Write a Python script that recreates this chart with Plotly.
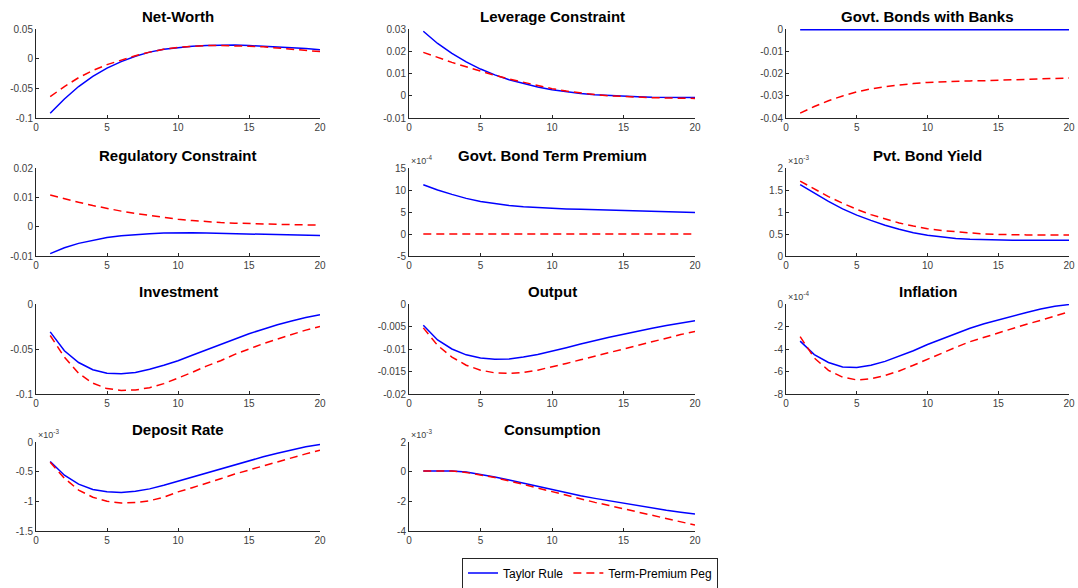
import plotly.graph_objects as go

periods = list(range(1, 21))

titles = ["Net-Worth", "Leverage Constraint", "Govt. Bonds with Banks",
          "Regulatory Constraint", "Govt. Bond Term Premium", "Pvt. Bond Yield",
          "Investment", "Output", "Inflation",
          "Deposit Rate", "Consumption"]

# Taylor Rule series
taylor_networth = [-0.092, -0.068, -0.047, -0.030, -0.016, -0.005, 0.004, 0.011, 0.016, 0.019,
                   0.021, 0.022, 0.023, 0.023, 0.022, 0.021, 0.020, 0.018, 0.017, 0.015]
taylor_leverage = [0.029, 0.0235, 0.019, 0.0152, 0.012, 0.0094, 0.0072, 0.0054, 0.0039, 0.0027,
                   0.0017, 0.0010, 0.0004, 0.0000, -0.0003, -0.0005, -0.0007, -0.0008, -0.0008, -0.0008]
taylor_govbonds = [0.0] * 20
taylor_regulatory = [-0.0092, -0.0072, -0.0057, -0.0046, -0.0037, -0.0031, -0.0027, -0.0024, -0.0022, -0.0021,
                     -0.0021, -0.0022, -0.0023, -0.0024, -0.0025, -0.0026, -0.0027, -0.0028, -0.0029, -0.0030]
taylor_termprem = [11.2, 10.0, 9.0, 8.1, 7.4, 6.9, 6.5, 6.2, 6.0, 5.8,
                   5.7, 5.6, 5.5, 5.45, 5.4, 5.3, 5.2, 5.1, 5.0, 4.9]          # x1e-4
taylor_pvtyield = [1.62, 1.42, 1.24, 1.07, 0.93, 0.81, 0.70, 0.61, 0.53, 0.47,
                   0.43, 0.40, 0.38, 0.37, 0.36, 0.36, 0.36, 0.36, 0.36, 0.36]  # x1e-3
taylor_invest = [-0.031, -0.052, -0.065, -0.073, -0.077, -0.0775, -0.076, -0.0725, -0.068, -0.063,
                 -0.057, -0.051, -0.045, -0.039, -0.033, -0.028, -0.023, -0.019, -0.015, -0.012]
taylor_output = [-0.0047, -0.0080, -0.0100, -0.0113, -0.0120, -0.0123, -0.0122, -0.0118, -0.0112, -0.0105,
                 -0.0097, -0.0089, -0.0081, -0.0074, -0.0067, -0.0060, -0.0054, -0.0048, -0.0042, -0.0037]
taylor_inflation = [-3.3, -4.5, -5.2, -5.6, -5.65, -5.45, -5.1, -4.65, -4.15, -3.6,
                    -3.1, -2.6, -2.15, -1.75, -1.4, -1.05, -0.75, -0.45, -0.2, -0.05]  # x1e-4
taylor_deposit = [-0.33, -0.56, -0.71, -0.80, -0.84, -0.85, -0.83, -0.79, -0.73, -0.66,
                  -0.59, -0.52, -0.45, -0.38, -0.31, -0.25, -0.19, -0.13, -0.08, -0.04]  # x1e-3
taylor_consump = [0.05, 0.07, 0.05, -0.03, -0.18, -0.36, -0.56, -0.78, -1.0, -1.2,
                  -1.42, -1.62, -1.8, -1.97, -2.13, -2.3, -2.45, -2.6, -2.73, -2.85]     # x1e-3

# Term-Premium Peg series
peg_networth = [-0.064, -0.047, -0.032, -0.020, -0.010, -0.002, 0.005, 0.011, 0.016, 0.019,
                0.021, 0.022, 0.022, 0.022, 0.021, 0.020, 0.018, 0.016, 0.014, 0.012]
peg_leverage = [0.0195, 0.0172, 0.015, 0.013, 0.011, 0.0092, 0.0075, 0.006, 0.0045, 0.0032,
                0.0021, 0.0012, 0.0005, 0.0000, -0.0004, -0.0007, -0.0009, -0.0010, -0.0011, -0.0012]
peg_govbonds = [-0.0378, -0.0348, -0.0322, -0.0300, -0.0282, -0.0268, -0.0258, -0.0250, -0.0244, -0.0239,
                -0.0236, -0.0234, -0.0232, -0.0231, -0.0229, -0.0227, -0.0225, -0.0223, -0.0221, -0.0219]
peg_regulatory = [0.0108, 0.0095, 0.0083, 0.0072, 0.0062, 0.0053, 0.0045, 0.0038, 0.0031, 0.0025,
                  0.0021, 0.0017, 0.0014, 0.0012, 0.0010, 0.0009, 0.0008, 0.0007, 0.0006, 0.0005]
peg_termprem = [0.0] * 20
peg_pvtyield = [1.70, 1.52, 1.35, 1.20, 1.06, 0.94, 0.84, 0.75, 0.68, 0.62,
                0.58, 0.55, 0.52, 0.50, 0.49, 0.48, 0.48, 0.48, 0.48, 0.48]
peg_invest = [-0.035, -0.059, -0.077, -0.088, -0.094, -0.096, -0.0955, -0.093, -0.0885, -0.0825,
              -0.076, -0.069, -0.063, -0.056, -0.050, -0.044, -0.039, -0.034, -0.029, -0.025]
peg_output = [-0.0053, -0.0092, -0.0118, -0.0136, -0.0147, -0.0153, -0.0154, -0.0152, -0.0147, -0.0140,
              -0.0132, -0.0124, -0.0116, -0.0107, -0.0099, -0.0091, -0.0083, -0.0076, -0.0068, -0.0061]
peg_inflation = [-2.9, -4.8, -5.9, -6.5, -6.75, -6.65, -6.35, -5.95, -5.45, -4.9,
                 -4.35, -3.85, -3.35, -2.95, -2.55, -2.15, -1.8, -1.45, -1.05, -0.7]
peg_deposit = [-0.34, -0.61, -0.81, -0.93, -1.00, -1.03, -1.02, -0.99, -0.93, -0.84,
               -0.77, -0.70, -0.62, -0.54, -0.47, -0.40, -0.33, -0.26, -0.20, -0.14]
peg_consump = [0.05, 0.07, 0.04, -0.05, -0.2, -0.4, -0.62, -0.86, -1.12, -1.38,
               -1.62, -1.85, -2.07, -2.28, -2.5, -2.72, -2.95, -3.18, -3.4, -3.6]

taylor_all = [taylor_networth, taylor_leverage, taylor_govbonds, taylor_regulatory, taylor_termprem,
              taylor_pvtyield, taylor_invest, taylor_output, taylor_inflation, taylor_deposit, taylor_consump]
peg_all = [peg_networth, peg_leverage, peg_govbonds, peg_regulatory, peg_termprem,
           peg_pvtyield, peg_invest, peg_output, peg_inflation, peg_deposit, peg_consump]

y_ticks = [
    [-0.1, -0.05, 0, 0.05],
    [-0.01, 0, 0.01, 0.02, 0.03],
    [-0.04, -0.03, -0.02, -0.01, 0],
    [-0.01, 0, 0.01, 0.02],
    [-5, 0, 5, 10, 15],
    [0, 0.5, 1, 1.5, 2],
    [-0.1, -0.05, 0],
    [-0.02, -0.015, -0.01, -0.005, 0],
    [-8, -6, -4, -2, 0],
    [-1.5, -1, -0.5, 0],
    [-4, -2, 0, 2],
]
y_ticklabels = [
    ["-0.1", "-0.05", "0", "0.05"],
    ["-0.01", "0", "0.01", "0.02", "0.03"],
    ["-0.04", "-0.03", "-0.02", "-0.01", "0"],
    ["-0.01", "0", "0.01", "0.02"],
    ["-5", "0", "5", "10", "15"],
    ["0", "0.5", "1", "1.5", "2"],
    ["-0.1", "-0.05", "0"],
    ["-0.02", "-0.015", "-0.01", "-0.005", "0"],
    ["-8", "-6", "-4", "-2", "0"],
    ["-1.5", "-1", "-0.5", "0"],
    ["-4", "-2", "0", "2"],
]
exponents = [None, None, None, None, "-4", "-3", None, None, "-4", "-3", "-3"]
x_ticks = [0, 5, 10, 15, 20]

W, H = 1078, 588
col_px = [(36, 320), (409, 695), (786, 1069)]
row_px = [(29, 118), (168, 256), (304, 394), (442, 531)]

fig = go.Figure()
axis_color = "#262626"
font_family = "Liberation Sans, Arial, sans-serif"
tick_font = dict(family=font_family, size=10, color="#404040")

for i in range(11):
    r, c = divmod(i, 3)
    n = i + 1
    xs = "" if n == 1 else str(n)
    x0, x1 = col_px[c]
    ytop, ybot = row_px[r]
    xd = [x0 / W, x1 / W]
    yd = [1 - ybot / H, 1 - ytop / H]
    fig.add_trace(go.Scatter(x=periods, y=taylor_all[i], mode="lines", name="Taylor Rule",
                             line=dict(color="#0000ff", width=1.5), showlegend=(i == 0),
                             xaxis="x" + xs, yaxis="y" + xs))
    fig.add_trace(go.Scatter(x=periods, y=peg_all[i], mode="lines", name="Term-Premium Peg",
                             line=dict(color="#ff0000", width=1.5, dash="8px,5px"), showlegend=(i == 0),
                             xaxis="x" + xs, yaxis="y" + xs))
    yt = y_ticks[i]
    top = yt[-1] + (0.0003 if i == 2 else 0)
    fig.layout["xaxis" + xs] = dict(domain=xd, anchor="y" + xs, range=[0, 20], tickvals=x_ticks,
                                    ticktext=[str(v) for v in x_ticks], automargin=False,
                                    showline=True, linecolor=axis_color, linewidth=1, mirror=False,
                                    ticks="inside", ticklen=3, tickcolor=axis_color, showgrid=False,
                                    zeroline=False, tickfont=tick_font, fixedrange=True,
                                    ticklabeloverflow="allow")
    fig.layout["yaxis" + xs] = dict(domain=yd, anchor="x" + xs, range=[yt[0], top], tickvals=yt,
                                    ticktext=y_ticklabels[i], automargin=False,
                                    showline=True, linecolor=axis_color, linewidth=1, mirror=False,
                                    ticks="inside", ticklen=3, tickcolor=axis_color, showgrid=False,
                                    zeroline=False, tickfont=tick_font, fixedrange=True)
    fig.add_annotation(text="<b>" + titles[i] + "</b>", xref="paper", yref="paper",
                       x=(xd[0] + xd[1]) / 2, y=1 - (ytop - 13) / H,
                       xanchor="center", yanchor="middle", showarrow=False, borderpad=0,
                       font=dict(family=font_family, size=15, color="#000000"))
    if exponents[i]:
        fig.add_annotation(text="×10<sup>" + exponents[i] + "</sup>", xref="paper", yref="paper",
                           x=xd[0], y=yd[1], xanchor="left", yanchor="bottom", showarrow=False,
                           font=dict(family=font_family, size=9, color="#404040"))

fig.update_layout(
    width=W, height=H, margin=dict(l=0, r=0, t=0, b=0, autoexpand=False),
    paper_bgcolor="white", plot_bgcolor="white",
    showlegend=True,
    legend=dict(orientation="h", x=590 / W, y=1 - 573 / H,
                xanchor="center", yanchor="middle",
                bordercolor="#262626", borderwidth=1, bgcolor="white",
                font=dict(family=font_family, size=12, color="#000000"),
                itemwidth=30, tracegroupgap=0),
)

# remove the browser's default 8px page margin so the figure fills the window exactly
fig.write_html("out.html", config={"displayModeBar": False},
               post_script="document.body.style.margin='0';document.body.style.overflow='hidden';")
